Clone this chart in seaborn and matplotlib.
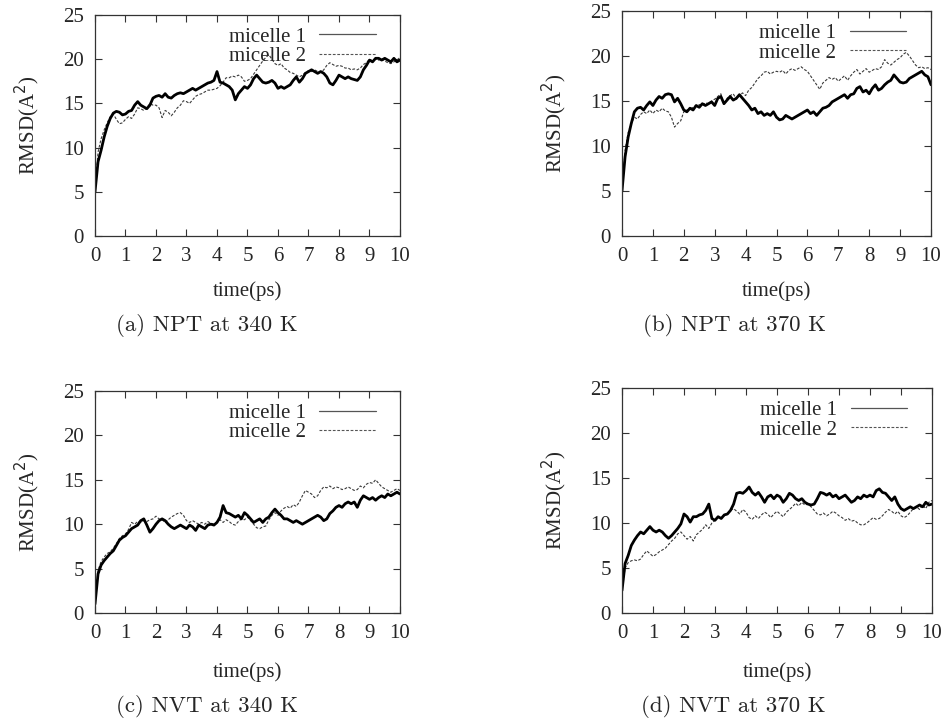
import numpy as np
import pandas as pd
import seaborn as sns
import matplotlib.pyplot as plt
from matplotlib.lines import Line2D

# time axis, one sample every 0.1 ps
time_ps = np.round(np.arange(0, 10.01, 0.1), 1)

# RMSD values
npt340_m1 = [5.0, 8.4, 9.7, 11.2, 12.4, 13.3, 13.9, 14.1, 14.0, 13.7,
             13.8, 14.1, 14.2, 14.8, 15.2, 14.8, 14.6, 14.4, 14.8, 15.6,
             15.8, 15.9, 15.7, 16.1, 15.7, 15.6, 15.9, 16.1, 16.2, 16.1,
             16.3, 16.5, 16.7, 16.5, 16.7, 16.9, 17.1, 17.3, 17.4, 17.6,
             18.6, 17.4, 17.3, 17.1, 16.9, 16.5, 15.4, 16.1, 16.5, 16.9,
             16.7, 17.1, 17.8, 18.2, 17.8, 17.4, 17.3, 17.4, 17.6, 17.3,
             16.7, 16.9, 16.7, 16.9, 17.1, 17.6, 18.0, 17.4, 17.8, 18.4,
             18.6, 18.8, 18.6, 18.4, 18.6, 18.4, 18.0, 17.3, 17.1, 17.6,
             18.2, 18.0, 17.8, 18.0, 17.8, 17.7, 17.6, 18.0, 18.8, 19.3,
             19.9, 19.7, 20.1, 20.1, 19.9, 20.1, 19.9, 19.7, 20.1, 19.7,
             19.9]
npt340_m2 = [5.0, 9.5, 11.0, 12.0, 12.8, 13.5, 13.8, 13.2, 12.7, 12.8,
             13.2, 13.5, 13.3, 13.8, 14.5, 14.4, 14.2, 14.5, 15.0, 14.8,
             14.8, 14.5, 13.4, 14.2, 14.0, 13.6, 14.0, 14.5, 14.8, 15.3,
             15.2, 15.0, 15.4, 15.8, 16.0, 16.1, 16.3, 16.5, 16.5, 16.6,
             16.7, 17.0, 17.4, 17.9, 17.9, 18.1, 18.0, 18.2, 18.0, 17.5,
             17.6, 17.8, 18.3, 18.8, 19.3, 19.8, 20.2, 20.5, 20.0, 19.5,
             19.3, 19.5, 19.0, 18.8, 18.5, 18.4, 18.2, 18.0, 18.2, 18.5,
             18.7, 18.6, 18.8, 18.6, 18.5, 18.8, 19.3, 19.6, 19.4, 19.2,
             19.3, 19.2, 19.0, 19.0, 18.8, 18.9, 18.8, 19.0, 19.4, 19.6,
             20.0, 19.8, 20.0, 19.9, 20.1, 19.8, 19.6, 19.5, 19.7, 19.9,
             20.2]
npt370_m1 = [5.0, 8.8, 11.0, 12.5, 13.8, 14.2, 14.3, 14.0, 14.5, 14.9,
             14.5, 15.1, 15.5, 15.3, 15.7, 15.8, 15.7, 14.9, 15.3, 14.7,
             14.0, 13.8, 14.2, 14.0, 14.5, 14.3, 14.7, 14.5, 14.7, 14.9,
             14.5, 15.3, 15.5, 14.7, 15.1, 15.5, 15.1, 15.3, 15.7, 15.3,
             14.9, 14.5, 14.0, 14.2, 13.6, 13.8, 13.4, 13.6, 13.4, 13.8,
             13.2, 12.9, 13.0, 13.4, 13.2, 13.0, 13.2, 13.4, 13.6, 13.8,
             14.0, 13.6, 13.8, 13.4, 13.8, 14.2, 14.3, 14.5, 14.9, 15.1,
             15.3, 15.5, 15.7, 15.3, 15.7, 15.8, 16.4, 16.6, 16.0, 16.2,
             15.8, 16.4, 16.8, 16.2, 16.4, 16.8, 17.1, 17.3, 17.9, 17.5,
             17.1, 17.0, 17.1, 17.5, 17.7, 17.9, 18.1, 18.3, 17.9, 17.7,
             16.8]
npt370_m2 = [5.0, 9.5, 11.5, 12.5, 13.2, 13.0, 13.5, 13.8, 13.6, 14.0,
             13.6, 14.0, 13.8, 14.2, 13.9, 13.8, 13.2, 12.1, 12.5, 12.8,
             13.8, 14.0, 14.1, 14.3, 14.5, 14.6, 14.5, 14.8, 14.7, 15.0,
             15.2, 15.5, 15.8, 14.6, 15.3, 15.6, 15.8, 15.2, 15.6, 15.9,
             15.6, 16.2, 16.5, 17.0, 17.5, 17.8, 18.2, 18.3, 18.0, 18.2,
             18.3, 18.2, 18.4, 18.0, 18.4, 18.6, 18.4, 18.6, 18.8, 18.5,
             18.3, 17.8, 17.3, 16.8, 16.3, 17.0, 17.3, 17.6, 17.4, 17.6,
             17.2, 17.5, 17.8, 17.3, 17.8, 18.2, 18.5, 18.0, 18.3, 18.6,
             18.2, 18.4, 18.6, 18.5, 18.8, 19.6, 19.2, 19.0, 19.3, 19.6,
             19.8, 20.2, 20.4, 20.0, 19.5, 19.0, 18.7, 18.8, 18.6, 18.7,
             18.5]
nvt340_m1 = [1.0, 4.4, 5.4, 5.9, 6.3, 6.7, 7.0, 7.6, 8.2, 8.5,
             8.7, 9.1, 9.5, 9.7, 9.9, 10.4, 10.6, 9.9, 9.1, 9.5,
             10.0, 10.4, 10.6, 10.4, 10.0, 9.7, 9.5, 9.7, 9.9, 9.7,
             9.5, 9.9, 9.7, 9.3, 9.9, 9.7, 9.5, 9.9, 10.0, 9.9,
             10.2, 10.8, 12.1, 11.3, 11.2, 11.0, 10.8, 11.0, 10.6, 11.3,
             11.0, 10.6, 10.2, 10.4, 10.6, 10.2, 10.6, 10.8, 11.3, 11.7,
             11.3, 11.0, 10.6, 10.6, 10.4, 10.2, 10.4, 10.2, 10.0, 10.2,
             10.4, 10.6, 10.8, 11.0, 10.8, 10.4, 10.6, 11.2, 11.5, 11.9,
             12.1, 11.9, 12.3, 12.5, 12.3, 12.5, 11.9, 12.7, 13.2, 13.0,
             12.8, 13.0, 12.7, 13.0, 13.2, 13.0, 13.4, 13.2, 13.4, 13.6,
             13.4]
nvt340_m2 = [1.0, 4.8, 5.8, 6.3, 6.7, 6.9, 7.3, 7.8, 8.4, 8.7,
             8.9, 9.4, 10.2, 10.0, 10.3, 10.2, 10.4, 10.3, 10.5, 10.6,
             10.9, 10.6, 10.5, 10.2, 10.5, 10.8, 11.0, 11.2, 11.3, 11.0,
             10.4, 10.2, 10.4, 10.2, 10.0, 10.2, 10.0, 10.3, 10.1, 10.0,
             10.3, 10.5, 10.2, 10.5, 10.3, 10.0, 9.9, 10.3, 10.6, 10.5,
             10.8, 10.4, 10.0, 9.6, 9.5, 9.7, 9.8, 10.5, 11.0, 11.3,
             11.0, 11.5, 11.8, 12.0, 11.8, 12.2, 12.0, 12.5, 13.2, 13.8,
             13.6, 13.4, 13.0, 13.2, 13.8, 14.2, 14.1, 14.3, 14.0, 14.2,
             14.1, 13.9, 14.0, 14.2, 14.0, 13.8, 13.9, 14.3, 14.1, 14.5,
             14.7, 14.6, 15.0, 14.6, 14.2, 14.0, 13.8, 13.6, 13.8, 14.0,
             13.8]
nvt370_m1 = [2.5, 5.5, 6.4, 7.5, 8.1, 8.6, 9.0, 8.8, 9.2, 9.6,
             9.2, 9.0, 9.2, 9.0, 8.6, 8.3, 8.6, 9.0, 9.4, 9.9,
             11.0, 10.7, 10.1, 10.7, 10.7, 10.9, 11.0, 11.4, 12.1, 10.5,
             10.3, 10.7, 10.5, 10.9, 11.0, 11.4, 12.1, 13.3, 13.4, 13.3,
             13.6, 14.0, 13.4, 13.1, 13.4, 12.9, 12.3, 12.9, 13.1, 12.7,
             13.1, 12.9, 12.3, 12.7, 13.3, 13.1, 12.7, 12.5, 12.7, 12.3,
             12.1, 12.0, 12.1, 12.7, 13.4, 13.3, 13.1, 13.3, 12.9, 13.1,
             12.7, 12.9, 13.1, 12.7, 12.3, 12.5, 12.9, 12.7, 13.1, 12.9,
             13.1, 12.9, 13.6, 13.8, 13.4, 13.3, 12.9, 12.5, 12.9, 12.1,
             11.6, 11.4, 11.6, 11.8, 11.6, 11.8, 12.0, 11.8, 12.3, 12.0,
             12.1]
nvt370_m2 = [2.5, 5.0, 5.6, 5.8, 5.9, 5.8, 6.0, 6.5, 6.9, 6.6,
             6.3, 6.5, 6.8, 7.0, 7.2, 7.6, 8.0, 8.3, 8.8, 9.0,
             8.6, 8.2, 8.5, 8.0, 8.7, 9.0, 9.3, 9.8, 9.4, 10.0,
             10.3, 10.6, 10.5, 10.8, 11.0, 11.4, 11.6, 11.3, 11.0, 11.5,
             11.2, 10.6, 10.4, 10.8, 10.5, 10.9, 11.2, 11.0, 10.6, 11.0,
             11.3, 11.0, 10.7, 11.2, 11.5, 11.8, 12.2, 11.9, 12.3, 12.0,
             12.1, 11.8, 11.4, 11.0, 10.9, 11.1, 10.8, 11.0, 11.3, 11.1,
             10.8, 10.6, 10.3, 10.5, 10.2, 10.3, 10.0, 9.8, 9.8, 10.0,
             10.3, 10.6, 10.4, 10.5, 10.8, 11.2, 11.5, 11.3, 11.0, 11.3,
             10.8, 10.6, 10.8, 11.2, 11.6, 11.8, 11.5, 12.0, 11.6, 12.3,
             12.5]

captions = ["(a) NPT at 340 K", "(b) NPT at 370 K",
            "(c) NVT at 340 K", "(d) NVT at 370 K"]
panels = [(npt340_m1, npt340_m2), (npt370_m1, npt370_m2),
          (nvt340_m1, nvt340_m2), (nvt370_m1, nvt370_m2)]

sns.set_style("ticks")
plt.rcParams['font.family'] = ['Liberation Serif', 'DejaVu Serif']
fs = 15

fig = plt.figure(figsize=(9.45, 7.2), dpi=100)
W, H = 945, 720
# axes boxes in pixels: left, top, right, bottom
boxes = [(95, 15, 400, 236), (622, 11, 931, 236),
         (95, 391, 400, 613), (622, 388, 932, 613)]
cap_pos = [(207, 326), (735, 326), (207, 707), (733, 707)]
xlab_pad = [11, 11, 14, 14]

for k, (m1, m2) in enumerate(panels):
    l, t, r, b = boxes[k]
    ax = fig.add_axes([l / W, 1 - b / H, (r - l) / W, (b - t) / H])
    df = pd.DataFrame({"time": time_ps, "m1": m1, "m2": m2})
    sns.lineplot(data=df, x="time", y="m2", ax=ax, color="#3a3a3a",
                 lw=0.8, linestyle=(0, (2.5, 1.5)))
    sns.lineplot(data=df, x="time", y="m1", ax=ax, color="black", lw=2.0)
    ax.set_xlim(0, 10)
    ax.set_ylim(0, 25)
    ax.set_xticks(range(0, 11))
    ax.set_yticks(range(0, 26, 5))
    ax.tick_params(direction="in", top=True, right=True, length=5,
                   width=0.8, labelsize=fs, pad=8, color="#333333")
    for s in ax.spines.values():
        s.set_linewidth(0.9)
        s.set_color("#333333")
    ax.set_xlabel("time(ps)", fontsize=fs, labelpad=xlab_pad[k])
    ax.set_ylabel(r"RMSD(A$^2$)", fontsize=fs, labelpad=15)

    handles = [Line2D([], [], color="#555555", lw=0.9),
               Line2D([], [], color="#555555", lw=0.8, linestyle=(0, (2.5, 1.5)))]
    ax.legend(handles, ["micelle 1", "micelle 2"], loc="upper right",
              bbox_to_anchor=(0.92, 0.945), frameon=False, markerfirst=False,
              handlelength=2.7, handletextpad=0.65, labelspacing=0.0,
              borderpad=0, borderaxespad=0, fontsize=fs)

    fig.text(cap_pos[k][0] / W, 1 - cap_pos[k][1] / H, captions[k],
             ha="center", va="center", fontsize=16.5, family="cmr10")

fig.savefig("out.png", dpi=100)
